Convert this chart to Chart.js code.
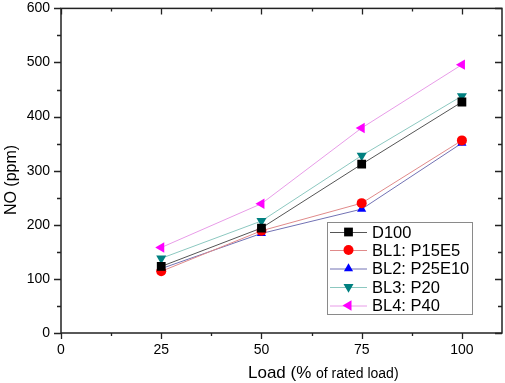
<!DOCTYPE html>
<html>
<head>
<meta charset="utf-8">
<script src="https://cdn.jsdelivr.net/npm/chart.js@4.4.1/dist/chart.umd.min.js"></script>
<style>
  html, body { margin: 0; padding: 0; background: #fff; }
  #wrap { width: 505px; height: 383px; }
</style>
</head>
<body>
<div id="wrap"><canvas id="noChart" width="505" height="383"></canvas></div>
<script>
const loads = [25, 50, 75, 100];
const d100 = [123, 194, 312, 427];
const bl1 = [114, 189, 240, 356];
const bl2 = [119, 184, 229, 351];
const bl3 = [138, 207, 328, 438];
const bl4 = [158, 239, 379, 496];
const seriesNames = ['D100', 'BL1: P15E5', 'BL2: P25E10', 'BL3: P20', 'BL4: P40'];
const xTickLabels = [0, 25, 50, 75, 100];
const yTickLabels = [0, 100, 200, 300, 400, 500, 600];

const toPoints = (vals) => vals.map((v, i) => ({ x: loads[i], y: v }));

const styles = [
  { line: '#555555', fill: '#000000', shape: 'rect', r: 6.2, rot: 0 },
  { line: '#e08a8a', fill: '#ff0000', shape: 'circle', r: 5, rot: 0 },
  { line: '#7272b4', fill: '#0000ff', shape: 'triangle', r: 5.3, rot: 0 },
  { line: '#8cc8c0', fill: '#008080', shape: 'triangle', r: 5.8, rot: 180 },
  { line: '#e89ce8', fill: '#ff00ff', shape: 'triangle', r: 6, rot: 270 }
];
const allSeries = [d100, bl1, bl2, bl3, bl4];

const datasets = allSeries.map((vals, i) => ({
  label: seriesNames[i],
  data: toPoints(vals),
  borderColor: styles[i].line,
  borderWidth: 1,
  backgroundColor: styles[i].fill,
  pointBackgroundColor: styles[i].fill,
  pointBorderColor: styles[i].fill,
  pointBorderWidth: 0,
  pointStyle: styles[i].shape,
  pointRadius: styles[i].r,
  pointRotation: styles[i].rot,
  tension: 0,
  fill: false
}));

// frame, ticks, axis titles and the boxed legend
const framePlugin = {
  id: 'frame',
  afterDraw(chart) {
    const ctx = chart.ctx;
    const a = chart.chartArea;
    const xs = chart.scales.x;
    const ys = chart.scales.y;
    ctx.save();
    ctx.strokeStyle = '#222';
    ctx.lineWidth = 1.5;
    ctx.strokeRect(a.left, a.top, a.right - a.left, a.bottom - a.top);

    ctx.lineWidth = 1.3;
    ctx.beginPath();
    xs.ticks.forEach(t => {
      const px = Math.round(xs.getPixelForValue(t.value)) + 0.5;
      const major = t.value % 25 === 0;
      const len = major ? 6 : 3;
      ctx.moveTo(px, a.bottom); ctx.lineTo(px, a.bottom + len);
      ctx.moveTo(px, a.top); ctx.lineTo(px, a.top + len);
    });
    ys.ticks.forEach(t => {
      const py = Math.round(ys.getPixelForValue(t.value)) + 0.5;
      const major = t.value % 100 === 0;
      const len = major ? 7 : 4;
      ctx.moveTo(a.left, py); ctx.lineTo(a.left - len, py);
      ctx.moveTo(a.right, py); ctx.lineTo(a.right - len, py);
    });
    ctx.stroke();

    // axis titles
    ctx.fillStyle = '#000';
    ctx.textBaseline = 'alphabetic';
    ctx.textAlign = 'left';
    ctx.font = '17px "Liberation Sans", Arial, sans-serif';
    const part1 = 'Load (% ';
    let x0 = 248;
    ctx.fillText(part1, x0, 378);
    x0 += ctx.measureText(part1).width;
    ctx.font = '14px "Liberation Sans", Arial, sans-serif';
    ctx.fillText('of rated load)', x0, 378);

    ctx.save();
    ctx.translate(16, 180);
    ctx.rotate(-Math.PI / 2);
    ctx.textAlign = 'center';
    ctx.font = '16px "Liberation Sans", Arial, sans-serif';
    ctx.fillText('NO (ppm)', 0, 0);
    ctx.restore();

    // legend
    const lx = 327, ly = 222, lw = 145, lh = 92;
    ctx.fillStyle = '#fff';
    ctx.fillRect(lx, ly, lw, lh);
    ctx.strokeStyle = '#8a8a8a';
    ctx.lineWidth = 1;
    ctx.strokeRect(lx + 0.5, ly + 0.5, lw, lh);
    const rows = [232, 250, 268.5, 287, 305.5];
    chart.data.datasets.forEach((ds, i) => {
      const cy = rows[i];
      ctx.strokeStyle = ds.borderColor;
      ctx.lineWidth = 1;
      ctx.beginPath();
      ctx.moveTo(330, cy + 0.5); ctx.lineTo(367, cy + 0.5);
      ctx.stroke();
      ctx.fillStyle = ds.pointBackgroundColor;
      ctx.strokeStyle = ds.pointBackgroundColor;
      Chart.helpers.drawPoint(ctx, {
        pointStyle: ds.pointStyle,
        rotation: ds.pointRotation,
        radius: ds.pointRadius,
        borderWidth: 0
      }, 348.5, cy);
      ctx.fillStyle = '#000';
      ctx.textAlign = 'left';
      ctx.textBaseline = 'middle';
      ctx.font = '16.5px "Liberation Sans", Arial, sans-serif';
      ctx.fillText(ds.label, 372, cy + 1);
    });
    ctx.restore();
  }
};

document.addEventListener('DOMContentLoaded', function () {
  const ctx = document.getElementById('noChart').getContext('2d');
  new Chart(ctx, {
    type: 'line',
    data: { datasets },
    options: {
      responsive: false,
      animation: false,
      layout: { autoPadding: false, padding: { top: 0, right: 3, left: 0, bottom: 0 } },
      plugins: {
        legend: { display: false },
        tooltip: { enabled: false },
        title: { display: false }
      },
      scales: {
        x: {
          type: 'linear',
          min: 0,
          max: 110,
          grid: { display: true, drawOnChartArea: false, tickLength: 9, tickColor: 'rgba(0,0,0,0)' },
          border: { display: false },
          afterFit: (s) => { s.height = 50; s.paddingRight = 0; s.paddingLeft = 0; },
          ticks: {
            stepSize: 12.5,
            includeBounds: false,
            padding: 0,
            autoSkip: false,
            maxRotation: 0,
            color: '#000',
            font: { family: '"Liberation Sans", Arial, sans-serif', size: 14 },
            callback: (v) => xTickLabels.includes(v) ? String(v) : ''
          }
        },
        y: {
          min: 0,
          max: 600,
          grid: { display: true, drawOnChartArea: false, tickLength: 11, tickColor: 'rgba(0,0,0,0)' },
          border: { display: false },
          afterFit: (s) => { s.width = 61; },
          ticks: {
            stepSize: 50,
            padding: 0,
            color: '#000',
            font: { family: '"Liberation Sans", Arial, sans-serif', size: 14 },
            callback: (v) => yTickLabels.includes(v) ? String(v) : ''
          }
        }
      }
    },
    plugins: [framePlugin]
  });
});
</script>
</body>
</html>
